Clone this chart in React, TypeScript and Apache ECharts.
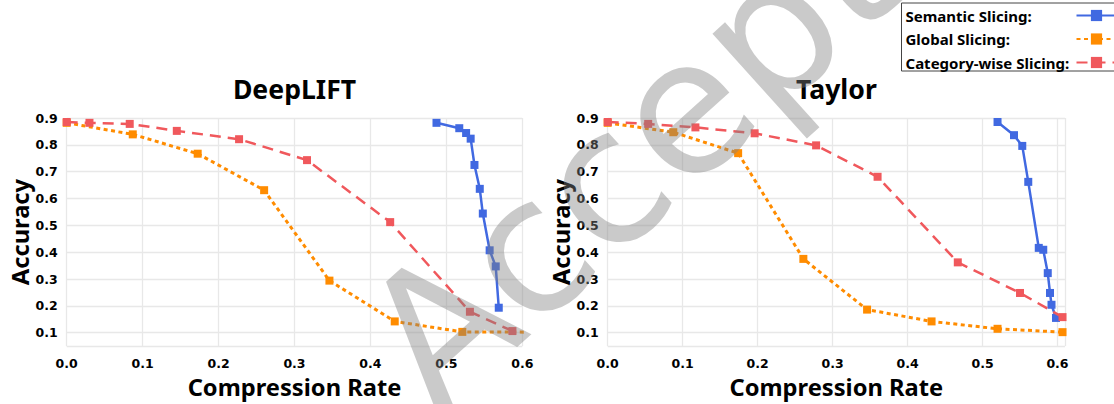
import React, { useEffect, useRef } from "react";
import * as echarts from "echarts";

const panelTitles = ["DeepLIFT", "Taylor"];
const seriesNames = ["Semantic Slicing:", "Global Slicing:", "Category-wise Slicing:"];
const seriesColors = ["#4169e1", "#ff8c00", "#f0585c"];
const xAxisName = "Compression Rate";
const yAxisName = "Accuracy";
const watermarkText = "Accepted";

// DeepLIFT panel: [compression rate, accuracy]
const deepliftSemantic: [number, number][] = [
  [0.487, 0.882], [0.517, 0.862], [0.526, 0.844], [0.532, 0.823], [0.537, 0.725],
  [0.544, 0.636], [0.548, 0.544], [0.557, 0.407], [0.565, 0.347], [0.569, 0.193],
];
const deepliftGlobal: [number, number][] = [
  [0.0, 0.882], [0.087, 0.839], [0.1725, 0.767], [0.26, 0.631], [0.346, 0.294],
  [0.432, 0.142], [0.521, 0.103], [0.607, 0.102],
];
const deepliftCategory: [number, number][] = [
  [0.0, 0.885], [0.03, 0.882], [0.083, 0.878], [0.145, 0.852], [0.227, 0.821],
  [0.3165, 0.743], [0.426, 0.512], [0.531, 0.178], [0.587, 0.106],
];

// Taylor panel
const taylorSemantic: [number, number][] = [
  [0.520, 0.885], [0.542, 0.836], [0.553, 0.796], [0.561, 0.662], [0.575, 0.416],
  [0.581, 0.409], [0.587, 0.322], [0.590, 0.248], [0.592, 0.204], [0.598, 0.155],
];
const taylorGlobal: [number, number][] = [
  [0.0, 0.882], [0.0875, 0.847], [0.174, 0.769], [0.261, 0.375], [0.346, 0.186],
  [0.432, 0.142], [0.520, 0.1145], [0.6067, 0.102],
];
const taylorCategory: [number, number][] = [
  [0.0, 0.885], [0.054, 0.878], [0.117, 0.865], [0.196, 0.843], [0.278, 0.798],
  [0.360, 0.681], [0.467, 0.362], [0.550, 0.248], [0.6067, 0.158],
];

const panelData = [
  [deepliftSemantic, deepliftGlobal, deepliftCategory],
  [taylorSemantic, taylorGlobal, taylorCategory],
];
const xMax = [0.6, 0.61];
const yMin = 0.05;
const yMax = 0.9;

const lineTypes: any[] = ["solid", [4, 3.5], [11, 7]];
const lineWidths = [2.5, 3, 2.5];

export default function App() {
  const ref = useRef<HTMLDivElement>(null);
  useEffect(() => {
    document.body.style.margin = "0";
    if (!ref.current) return;
    const chart = echarts.init(ref.current, undefined, { renderer: "svg" });
    const grids = [
      { left: 66.7, right: 591.7, top: 118, bottom: 57.3 },
      { left: 607.7, right: 49, top: 118, bottom: 57.3 },
    ];
    const tickFont = {
      fontFamily: "DejaVu Sans",
      fontWeight: "bold" as const,
      fontSize: 12.5,
      color: "#000",
    };
    const nameFont = {
      fontFamily: "Noto Sans",
      fontWeight: "bold" as const,
      fontSize: 23.7,
      color: "#000",
    };
    const splitLine = { show: true, lineStyle: { color: "#e8e8e8", width: 1.3 } };
    const xAxes = grids.map((_, i) => ({
      type: "value",
      gridIndex: i,
      min: 0,
      max: xMax[i],
      interval: 0.1,
      axisLine: { show: false },
      axisTick: { show: false },
      splitLine,
      axisLabel: {
        ...tickFont,
        margin: 11,
        showMaxLabel: i === 0,
        formatter: (v: number) => v.toFixed(1),
      },
      name: xAxisName,
      nameLocation: "middle",
      nameGap: 22,
      nameTextStyle: nameFont,
    }));
    const yAxes = grids.map((_, i) => ({
      type: "value",
      gridIndex: i,
      min: yMin,
      max: yMax,
      splitNumber: 8,
      axisLine: { show: false },
      axisTick: { show: false },
      splitLine,
      axisLabel: {
        ...tickFont,
        margin: 9,
        showMinLabel: false,
        formatter: (v: number) => v.toFixed(1),
      },
      name: yAxisName,
      nameLocation: "middle",
      nameRotate: 90,
      nameGap: 32,
      nameTextStyle: nameFont,
    }));
    const series: any[] = [];
    panelData.forEach((arr, p) => {
      arr.forEach((data, s) => {
        series.push({
          name: seriesNames[s],
          type: "line",
          xAxisIndex: p,
          yAxisIndex: p,
          data,
          symbol: "rect",
          symbolSize: 8,
          color: seriesColors[s],
          itemStyle: { color: seriesColors[s] },
          lineStyle: { color: seriesColors[s], width: lineWidths[s], type: lineTypes[s] },
          z: 2 + s,
        });
      });
    });
    const angle = (42 * Math.PI) / 180;
    chart.setOption({
      animation: false,
      backgroundColor: "#fff",
      title: panelTitles.map((t, i) => ({
        text: t,
        left: i === 0 ? 294.5 : 836.4,
        top: 75,
        padding: 0,
        textAlign: "center",
        textStyle: {
          fontFamily: "Noto Sans",
          fontWeight: "bold",
          fontSize: 26.6,
          color: "#000",
        },
      })),
      legend: {
        data: seriesNames,
        orient: "vertical",
        left: 901.5,
        top: 3,
        align: "right",
        padding: [5, 10, 1, 4],
        itemGap: 8.5,
        itemWidth: 40,
        itemHeight: 14,
        borderColor: "#444",
        borderWidth: 1,
        backgroundColor: "#fff",
        formatter: "{a|{name}}",
        textStyle: {
          fontFamily: "Noto Sans",
          fontWeight: "bold",
          fontSize: 15,
          color: "#000",
          rich: {
            a: {
              width: 166,
              align: "left",
              fontFamily: "Noto Sans",
              fontWeight: "bold",
              fontSize: 15,
              color: "#000",
            },
          },
        },
      },
      grid: grids,
      xAxis: xAxes,
      yAxis: yAxes,
      series,
      graphic: [
        {
          type: "text",
          x: 394,
          y: 370.5,
          rotation: angle,
          z: 100,
          silent: true,
          style: {
            text: watermarkText,
            fontFamily: "DejaVu Sans",
            fontSize: 187,
            fill: "rgba(128,128,128,0.42)",
            align: "left",
            verticalAlign: "middle",
          },
        },
      ],
    });
    return () => chart.dispose();
  }, []);
  return <div ref={ref} style={{ width: 1114, height: 404 }} />;
}
